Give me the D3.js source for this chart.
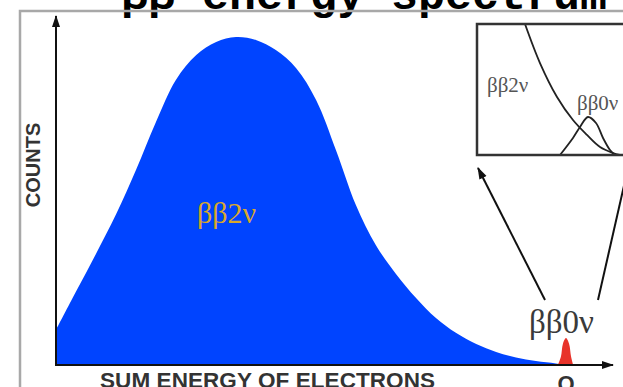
<!DOCTYPE html>
<html>
<head>
<meta charset="utf-8">
<script src="https://cdn.jsdelivr.net/npm/d3@7"></script>
<style>
  html, body { margin: 0; padding: 0; background: #fff; overflow: hidden; }
  svg { display: block; }
</style>
</head>
<body>
<div id="chart"></div>
<script>
// Sum energy of the two electrons, as a fraction of Q, and relative counts
var energy2nu = [0, 0.039, 0.078, 0.118, 0.157, 0.196, 0.235, 0.275, 0.314, 0.353, 0.392,
                 0.431, 0.471, 0.51, 0.549, 0.588, 0.627, 0.667, 0.706, 0.745, 0.784,
                 0.824, 0.863, 0.902, 0.941, 0.98, 1];
var counts2nu = [10.7, 22.3, 33.8, 46.0, 59.5, 74.1, 86.9, 94.5, 98.5, 100, 99.1,
                 96.0, 90.5, 80.8, 65.5, 48.8, 36.6, 27.7, 20.4, 14.3, 9.8,
                 6.4, 4.0, 2.3, 1.2, 0.46, 0];

// The 0v peak sitting at Q
var energy0nu = [0.984, 0.99, 0.994, 1, 1.006, 1.01, 1.014];
var counts0nu = [0, 2.5, 6.5, 8.2, 6.5, 2.5, 0];

// Zoomed view near Q (inset)
var insetEnergy2nu = [0.8736, 0.8966, 0.9227, 0.9472, 0.9687, 0.9887, 1.0086, 1.019];
var insetCounts2nu = [10, 7.02, 4.43, 2.67, 1.53, 0.61, 0.15, 0];
var insetEnergy0nu = [0.9273, 0.9472, 0.958, 0.9702, 0.9825, 0.9933, 1.004, 1.0117];
var insetCounts0nu = [0, 1.3, 2.14, 2.9, 2.44, 1.3, 0.38, 0];

var titleText = "\u03b2\u03b2 energy spectrum";
var xLabel = "SUM ENERGY OF ELECTRONS";
var yLabel = "COUNTS";
var label2nu = "\u03b2\u03b22\u03bd";
var label0nu = "\u03b2\u03b20\u03bd";

function zip(xs, ys) {
    return xs.map(function(v, i) { return {e: v, c: ys[i]}; });
}

var width = 623, height = 387;

var svg = d3.select("#chart").append("svg")
    .attr("width", width)
    .attr("height", height);

// main scales
var x = d3.scaleLinear().domain([0, 1]).range([56, 566]);
var y = d3.scaleLinear().domain([0, 100]).range([365, 37]);

// title (only the bottom of it fits in the picture)
svg.append("text")
    .attr("x", 607)
    .attr("y", 9)
    .attr("text-anchor", "end")
    .style("font-family", "'Liberation Mono', 'Courier New', monospace")
    .style("font-weight", "bold")
    .style("font-size", "45px")
    .style("fill", "#000")
    .text(titleText);

// grey frame round the slide
svg.append("rect")
    .attr("x", 20)
    .attr("y", 11)
    .attr("width", 700)
    .attr("height", 500)
    .style("fill", "none")
    .style("stroke", "#a8a8a8")
    .style("stroke-width", 2.5);

// arrow head marker
var defs = svg.append("defs");
defs.append("marker")
    .attr("id", "head")
    .attr("viewBox", "0 0 12 10")
    .attr("refX", 11)
    .attr("refY", 5)
    .attr("markerWidth", 12)
    .attr("markerHeight", 10)
    .attr("markerUnits", "userSpaceOnUse")
    .attr("orient", "auto")
    .append("path")
    .attr("d", "M0,1 L12,5 L0,9 Z")
    .style("fill", "#111");

// 2v area
var area = d3.area()
    .x(function(d) { return x(d.e); })
    .y0(y(0))
    .y1(function(d) { return y(d.c); })
    .curve(d3.curveCatmullRom.alpha(0.5));

svg.append("path")
    .datum(zip(energy2nu, counts2nu))
    .attr("d", area)
    .style("fill", "#0044ff");

svg.append("path")
    .datum(zip(energy0nu, counts0nu))
    .attr("d", area)
    .style("fill", "#e8332a");

// axes with arrows
svg.append("line")
    .attr("x1", x(0)).attr("y1", y(0))
    .attr("x2", x(0)).attr("y2", 16)
    .attr("marker-end", "url(#head)")
    .style("stroke", "#111")
    .style("stroke-width", 2);

svg.append("line")
    .attr("x1", x(0) - 1).attr("y1", y(0))
    .attr("x2", 613).attr("y2", y(0))
    .attr("marker-end", "url(#head)")
    .style("stroke", "#111")
    .style("stroke-width", 2);

// axis labels
svg.append("text")
    .attr("transform", "translate(40,165) rotate(-90)")
    .attr("text-anchor", "middle")
    .style("font-family", "'Liberation Sans', Arial, sans-serif")
    .style("font-weight", "bold")
    .style("font-size", "20px")
    .style("fill", "#333")
    .text(yLabel);

svg.append("text")
    .attr("x", 100)
    .attr("y", 388)
    .attr("textLength", 335)
    .style("font-family", "'Liberation Sans', Arial, sans-serif")
    .style("font-weight", "bold")
    .style("font-size", "22.5px")
    .style("fill", "#333")
    .text(xLabel);

svg.append("text")
    .attr("x", x(1))
    .attr("y", 391)
    .attr("text-anchor", "middle")
    .style("font-family", "'Liberation Sans', Arial, sans-serif")
    .style("font-weight", "bold")
    .style("font-size", "22px")
    .style("fill", "#333")
    .text("Q");

// peak labels
svg.append("text")
    .attr("x", 197)
    .attr("y", 223)
    .style("font-family", "'Liberation Serif', 'Times New Roman', serif")
    .style("font-size", "30px")
    .style("fill", "#d9a82c")
    .text(label2nu);

svg.append("text")
    .attr("x", 529)
    .attr("y", 333)
    .style("font-family", "'Liberation Serif', 'Times New Roman', serif")
    .style("font-size", "33px")
    .style("fill", "#3a3a3a")
    .text(label0nu);

// inset
var xi = d3.scaleLinear().domain([0.8, 1.05]).range([477, 640]);
var yi = d3.scaleLinear().domain([0, 10]).range([155, 24]);

var inset = svg.append("g");

inset.append("clipPath")
    .attr("id", "insetClip")
    .append("rect")
    .attr("x", xi(0.8)).attr("y", yi(10))
    .attr("width", xi(1.05) - xi(0.8)).attr("height", yi(0) - yi(10));

var line = d3.line()
    .x(function(d) { return xi(d.e); })
    .y(function(d) { return yi(d.c); })
    .curve(d3.curveCatmullRom.alpha(0.5));

inset.append("path")
    .datum(zip(insetEnergy2nu, insetCounts2nu))
    .attr("d", line)
    .attr("clip-path", "url(#insetClip)")
    .style("fill", "none")
    .style("stroke", "#222")
    .style("stroke-width", 1.8);

inset.append("path")
    .datum(zip(insetEnergy0nu, insetCounts0nu))
    .attr("d", line)
    .attr("clip-path", "url(#insetClip)")
    .style("fill", "none")
    .style("stroke", "#222")
    .style("stroke-width", 1.8);

inset.append("rect")
    .attr("x", xi(0.8)).attr("y", yi(10))
    .attr("width", xi(1.05) - xi(0.8)).attr("height", yi(0) - yi(10))
    .style("fill", "none")
    .style("stroke", "#333")
    .style("stroke-width", 2.5);

inset.append("text")
    .attr("x", 487)
    .attr("y", 92)
    .style("font-family", "'Liberation Serif', 'Times New Roman', serif")
    .style("font-size", "21px")
    .style("fill", "#555")
    .text(label2nu);

inset.append("text")
    .attr("x", 577)
    .attr("y", 110)
    .style("font-family", "'Liberation Serif', 'Times New Roman', serif")
    .style("font-size", "21px")
    .style("fill", "#555")
    .text(label0nu);

// zoom arrows from the 0v label up to the inset
svg.append("line")
    .attr("x1", 545).attr("y1", 300)
    .attr("x2", xi(0.8) + 1).attr("y2", yi(0) + 13)
    .attr("marker-end", "url(#head)")
    .style("stroke", "#111")
    .style("stroke-width", 2);

svg.append("line")
    .attr("x1", 598).attr("y1", 300)
    .attr("x2", 628).attr("y2", yi(0) + 13)
    .style("stroke", "#111")
    .style("stroke-width", 2);
</script>
</body>
</html>
